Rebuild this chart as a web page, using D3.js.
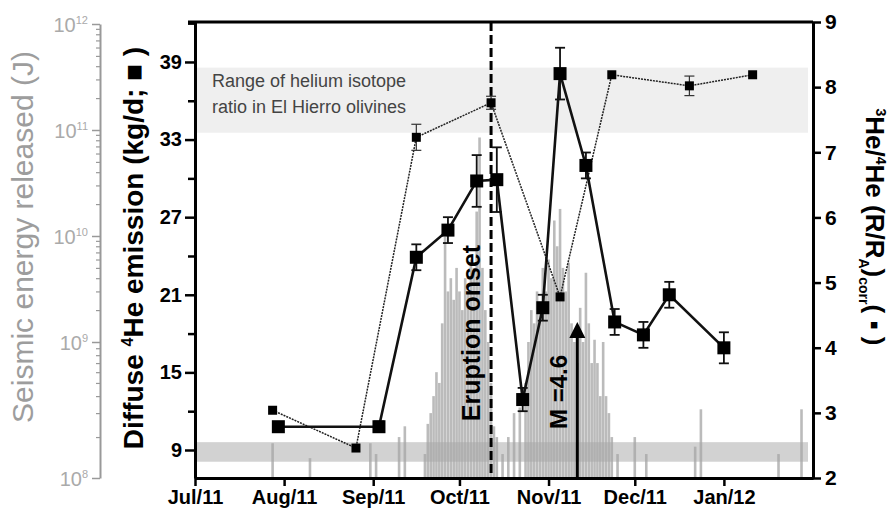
<!DOCTYPE html>
<html>
<head>
<meta charset="utf-8">
<script src="https://cdn.jsdelivr.net/npm/d3@7"></script>
<style>
  body { margin: 0; background: #fff; }
  svg text { font-family: Arial, "Liberation Sans", sans-serif; }
</style>
</head>
<body>
<svg id="chart" width="894" height="512"></svg>
<script>
// diffuse 4He emission (kg/d), black squares, left axis
var heDates = ["2011-07-30","2011-09-03","2011-09-16","2011-09-27","2011-10-07","2011-10-14","2011-10-23",
	"2011-10-30","2011-11-05","2011-11-14","2011-11-24","2011-12-04","2011-12-13","2012-01-01"];
var heValues = [10.8, 10.8, 23.9, 26.0, 29.8, 29.9, 12.9, 20.0, 38.1, 31.0, 18.9, 17.9, 21.0, 16.9];
var heErrors = [0.3, 0.4, 1.0, 1.0, 2.0, 2.5, 0.9, 1.0, 2.0, 1.0, 1.0, 1.0, 1.0, 1.2];

// 3He/4He ratio (R/Ra corr), small squares, right axis
var ratioDates = ["2011-07-28","2011-08-26","2011-09-16","2011-10-12","2011-11-05","2011-11-23","2011-12-20","2012-01-11"];
var ratioValues = [3.04, 2.46, 7.23, 7.76, 4.78, 8.19, 8.02, 8.19];
var ratioErrors = [0, 0, 0.2, 0.1, 0, 0, 0.15, 0];

// daily seismic energy released (J)
var quakeDates = ["2011-07-28","2011-08-10","2011-08-31","2011-09-02","2011-09-10","2011-09-12","2011-09-19",
	"2011-09-20","2011-09-21","2011-09-22","2011-09-23","2011-09-24","2011-09-25","2011-09-26","2011-09-27",
	"2011-09-28","2011-09-29","2011-09-30","2011-10-01","2011-10-02","2011-10-03","2011-10-04","2011-10-05",
	"2011-10-06","2011-10-07","2011-10-08","2011-10-09","2011-10-10","2011-10-11","2011-10-12","2011-10-13",
	"2011-10-14","2011-10-16","2011-10-18","2011-10-20","2011-10-22","2011-10-24","2011-10-25","2011-10-26",
	"2011-10-27","2011-10-28","2011-10-29","2011-10-30","2011-10-31","2011-11-01","2011-11-02","2011-11-03",
	"2011-11-04","2011-11-05","2011-11-06","2011-11-07","2011-11-08","2011-11-09","2011-11-10","2011-11-11",
	"2011-11-12","2011-11-13","2011-11-14","2011-11-15","2011-11-16","2011-11-17","2011-11-18","2011-11-19",
	"2011-11-20","2011-11-21","2011-11-22","2011-11-23","2011-11-25","2011-12-01","2011-12-05","2011-12-22",
	"2011-12-24","2012-01-20","2012-01-28"];
var quakeEnergy = [1.8e8, 1.4e8, 1.8e8, 1.5e8, 2.0e8, 2.4e8, 1.5e8,
	2.5e8, 3e8, 4e8, 6e8, 5e8, 1.5e9, 9.8e9, 3e9,
	4e9, 2.5e9, 5e9, 3e9, 2e9, 4e9, 3e9, 6e9,
	5e9, 1.7e10, 8.5e10, 5e9, 2e9, 1e9, 5e8, 2.4e8,
	2e8, 1.5e8, 2e8, 3e8, 3.3e8, 5e8, 1e9, 2e9,
	1.5e9, 3e9, 2e9, 5e9, 3e9, 6e9, 4e9, 1.4e10,
	8e9, 1.8e10, 5e9, 3e9, 5.6e9, 1.5e9, 1e9, 7e8,
	2.1e9, 1e9, 4.5e9, 1.5e9, 7e8, 1.05e9, 7e8, 4e8,
	1e9, 4e8, 3e8, 2e8, 1.5e8, 2e8, 1.5e8, 1.7e8,
	3.2e8, 1.5e8, 3.2e8];

var heTicks = [9, 15, 21, 27, 33, 39];
var heMinor = [12, 18, 24, 30, 36, 42];
var ratioTicks = [2, 3, 4, 5, 6, 7, 8, 9];
var energyTicks = [1e8, 1e9, 1e10, 1e11, 1e12];

var oliveRange = [7.3, 8.3];   // R/Ra band, El Hierro olivines
var lowBand = [2.25, 2.55];
var eruptionDate = "2011-10-12";
var bigQuakeDate = "2011-11-11";

var parse = d3.timeParse("%Y-%m-%d");
var svg = d3.select("#chart");

var x = d3.scaleTime().domain([new Date(2011, 6, 1), new Date(2012, 1, 1)]).range([195, 813]);
var yHe = d3.scaleLinear().domain([6.835, 42.09]).range([478, 22]);
var yR = d3.scaleLinear().domain([2, 9]).range([478, 22]);
var yE = d3.scaleLog().domain([1e8, 1e9, 1e12]).range([478, 342, 24]);

// bands
svg.append("rect")
	.attr("x", x.range()[0] + 2).attr("width", x.range()[1] - x.range()[0] - 7)
	.attr("y", yR(oliveRange[1])).attr("height", yR(oliveRange[0]) - yR(oliveRange[1]))
	.attr("fill", "#efefef");
svg.append("rect")
	.attr("x", x.range()[0] + 2).attr("width", x.range()[1] - x.range()[0] - 7)
	.attr("y", yR(lowBand[1])).attr("height", yR(lowBand[0]) - yR(lowBand[1]))
	.attr("fill", "#d2d2d2");

// seismic bars
var quakes = quakeDates.map(function(d, i) { return {date: parse(d), e: quakeEnergy[i]}; });
svg.append("g").selectAll("rect")
	.data(quakes)
	.enter().append("rect")
	.attr("x", function(d) { return x(d.date) - 1.3; })
	.attr("width", 2.6)
	.attr("y", function(d) { return yE(d.e); })
	.attr("height", function(d) { return 478 - yE(d.e); })
	.attr("fill", "#a4a4a4")
	.attr("opacity", 0.75);

svg.append("text")
	.attr("x", 212).attr("y", 87)
	.attr("font-size", 18).attr("fill", "#444")
	.text("Range of helium isotope");
svg.append("text")
	.attr("x", 212).attr("y", 113)
	.attr("font-size", 18).attr("fill", "#444")
	.text("ratio in El Hierro olivines");

// eruption onset
var xe = x(parse(eruptionDate));
svg.append("line")
	.attr("x1", xe).attr("x2", xe).attr("y1", 22).attr("y2", 478)
	.attr("stroke", "#000").attr("stroke-width", 3).attr("stroke-dasharray", "9,4");
svg.append("text")
	.attr("transform", "translate(480,333)rotate(-90)")
	.attr("text-anchor", "middle")
	.attr("font-size", 25).attr("font-weight", "bold")
	.text("Eruption onset");

// M=4.6 arrow
var xq = x(parse(bigQuakeDate));
svg.append("line")
	.attr("x1", xq).attr("x2", xq).attr("y1", 478).attr("y2", 335)
	.attr("stroke", "#000").attr("stroke-width", 3);
svg.append("path")
	.attr("d", "M" + (xq - 8) + ",338L" + xq + ",322L" + (xq + 8) + ",338Z")
	.attr("fill", "#000");
svg.append("text")
	.attr("transform", "translate(567,392)rotate(-90)")
	.attr("text-anchor", "middle")
	.attr("font-size", 24).attr("font-weight", "bold")
	.text("M =4.6");

// ratio series
var ratio = ratioDates.map(function(d, i) { return {date: parse(d), v: ratioValues[i], err: ratioErrors[i]}; });
svg.append("path")
	.datum(ratio)
	.attr("fill", "none").attr("stroke", "#222").attr("stroke-width", 1.5)
	.attr("stroke-dasharray", "2,1")
	.attr("d", d3.line().x(function(d) { return x(d.date); }).y(function(d) { return yR(d.v); }));
var rErr = svg.append("g").selectAll("g")
	.data(ratio.filter(function(d) { return d.err > 0; }))
	.enter().append("g").attr("stroke", "#333").attr("stroke-width", 1.2);
rErr.append("line")
	.attr("x1", function(d) { return x(d.date); }).attr("x2", function(d) { return x(d.date); })
	.attr("y1", function(d) { return yR(d.v - d.err); }).attr("y2", function(d) { return yR(d.v + d.err); });
rErr.append("line")
	.attr("x1", function(d) { return x(d.date) - 5; }).attr("x2", function(d) { return x(d.date) + 5; })
	.attr("y1", function(d) { return yR(d.v + d.err); }).attr("y2", function(d) { return yR(d.v + d.err); });
rErr.append("line")
	.attr("x1", function(d) { return x(d.date) - 5; }).attr("x2", function(d) { return x(d.date) + 5; })
	.attr("y1", function(d) { return yR(d.v - d.err); }).attr("y2", function(d) { return yR(d.v - d.err); });
svg.append("g").selectAll("rect")
	.data(ratio)
	.enter().append("rect")
	.attr("x", function(d) { return x(d.date) - 4.5; })
	.attr("y", function(d) { return yR(d.v) - 4.5; })
	.attr("width", 9).attr("height", 9)
	.attr("fill", "#000");

// helium emission series
var he = heDates.map(function(d, i) { return {date: parse(d), v: heValues[i], err: heErrors[i]}; });
var hErr = svg.append("g").selectAll("g")
	.data(he)
	.enter().append("g").attr("stroke", "#111").attr("stroke-width", 1.8);
hErr.append("line")
	.attr("x1", function(d) { return x(d.date); }).attr("x2", function(d) { return x(d.date); })
	.attr("y1", function(d) { return yHe(d.v - d.err); }).attr("y2", function(d) { return yHe(d.v + d.err); });
hErr.append("line")
	.attr("x1", function(d) { return x(d.date) - 5; }).attr("x2", function(d) { return x(d.date) + 5; })
	.attr("y1", function(d) { return yHe(d.v + d.err); }).attr("y2", function(d) { return yHe(d.v + d.err); });
hErr.append("line")
	.attr("x1", function(d) { return x(d.date) - 5; }).attr("x2", function(d) { return x(d.date) + 5; })
	.attr("y1", function(d) { return yHe(d.v - d.err); }).attr("y2", function(d) { return yHe(d.v - d.err); });
svg.append("path")
	.datum(he)
	.attr("fill", "none").attr("stroke", "#111").attr("stroke-width", 2.6)
	.attr("d", d3.line().x(function(d) { return x(d.date); }).y(function(d) { return yHe(d.v); }));
svg.append("g").selectAll("rect")
	.data(he)
	.enter().append("rect")
	.attr("x", function(d) { return x(d.date) - 6.5; })
	.attr("y", function(d) { return yHe(d.v) - 6.5; })
	.attr("width", 13).attr("height", 13)
	.attr("fill", "#000");

// axes
function styleAxis(g, size) {
	g.select(".domain").attr("stroke-width", 3);
	g.selectAll(".tick line").attr("stroke-width", 2.5);
	g.selectAll("text").attr("font-size", size).attr("font-weight", "bold").attr("fill", "#000")
		.style("font-family", "Arial, 'Liberation Sans', sans-serif");
}

svg.append("line").attr("x1", 188).attr("x2", 813).attr("y1", 22).attr("y2", 22)
	.attr("stroke", "#000").attr("stroke-width", 3);

var gx = svg.append("g").attr("transform", "translate(0,478)")
	.call(d3.axisBottom(x).ticks(d3.timeMonth.every(1)).tickFormat(d3.timeFormat("%b/%y")).tickSize(8).tickSizeOuter(0).tickPadding(4));
styleAxis(gx, 20);
gx.selectAll(".tick").filter(function(d) { return d.getMonth() === 1 && d.getFullYear() === 2012; }).remove();

var gl = svg.append("g").attr("transform", "translate(195,0)")
	.call(d3.axisLeft(yHe).tickValues(heTicks).tickSize(10).tickSizeOuter(0).tickPadding(3));
styleAxis(gl, 20);
svg.append("g").attr("transform", "translate(195,0)")
	.call(d3.axisLeft(yHe).tickValues(heMinor).tickSize(7).tickFormat("").tickSizeOuter(0))
	.call(function(g) { g.select(".domain").remove(); g.selectAll("line").attr("stroke-width", 2.5); });

var gr = svg.append("g").attr("transform", "translate(813,0)")
	.call(d3.axisRight(yR).tickValues(ratioTicks).tickFormat(d3.format("d")).tickSize(8).tickSizeOuter(0).tickPadding(4));
styleAxis(gr, 21);

// seismic energy log axis (grey)
var minorE = [];
[1e8, 1e9, 1e10, 1e11].forEach(function(p) { for (var k = 2; k < 10; k++) minorE.push(p * k); });
svg.append("g").attr("transform", "translate(100,0)")
	.call(d3.axisLeft(yE).tickValues(energyTicks).tickSize(8).tickFormat("").tickSizeOuter(0))
	.call(function(g) {
		g.select(".domain").attr("stroke", "#999").attr("stroke-width", 2);
		g.selectAll(".tick line").attr("stroke", "#999").attr("stroke-width", 1.5);
	});
svg.append("g").attr("transform", "translate(100,0)")
	.call(d3.axisLeft(yE).tickValues(minorE).tickSize(4).tickFormat("").tickSizeOuter(0))
	.call(function(g) {
		g.select(".domain").remove();
		g.selectAll(".tick line").attr("stroke", "#999").attr("stroke-width", 1.2);
	});
energyTicks.forEach(function(v) {
	var t = svg.append("text")
		.attr("x", 88).attr("y", yE(v) + 8)
		.attr("text-anchor", "end")
		.attr("font-size", 20).attr("fill", "#aaa");
	t.append("tspan").text("10");
	t.append("tspan").attr("dy", -8).attr("font-size", 11).text(Math.round(Math.log10(v)));
});

// axis titles
svg.append("text")
	.attr("transform", "translate(33,237)rotate(-90)")
	.attr("text-anchor", "middle")
	.attr("font-size", 30).attr("fill", "#9d9d9d")
	.text("Seismic energy released (J)");

var lt = svg.append("text")
	.attr("transform", "translate(143,248)rotate(-90)")
	.attr("text-anchor", "middle")
	.attr("font-size", 28).attr("font-weight", "bold");
lt.append("tspan").text("Diffuse ");
lt.append("tspan").attr("dy", -10).attr("font-size", 16).text("4");
lt.append("tspan").attr("dy", 10).text("He emission (kg/d; \u25A0 )");

var rt = svg.append("text")
	.attr("transform", "translate(866,227)rotate(90)")
	.attr("text-anchor", "middle")
	.attr("font-size", 26).attr("font-weight", "bold");
rt.append("tspan").attr("dy", -10).attr("font-size", 14).text("3");
rt.append("tspan").attr("dy", 10).text("He/");
rt.append("tspan").attr("dy", -10).attr("font-size", 14).text("4");
rt.append("tspan").attr("dy", 10).text("He (R/R");
rt.append("tspan").attr("dy", 7).attr("font-size", 14).text("A");
rt.append("tspan").attr("dy", -7).text(")");
rt.append("tspan").attr("dy", 7).attr("font-size", 14).text("corr");
rt.append("tspan").attr("dy", -7).text("( \u25AA )");
</script>
</body>
</html>
